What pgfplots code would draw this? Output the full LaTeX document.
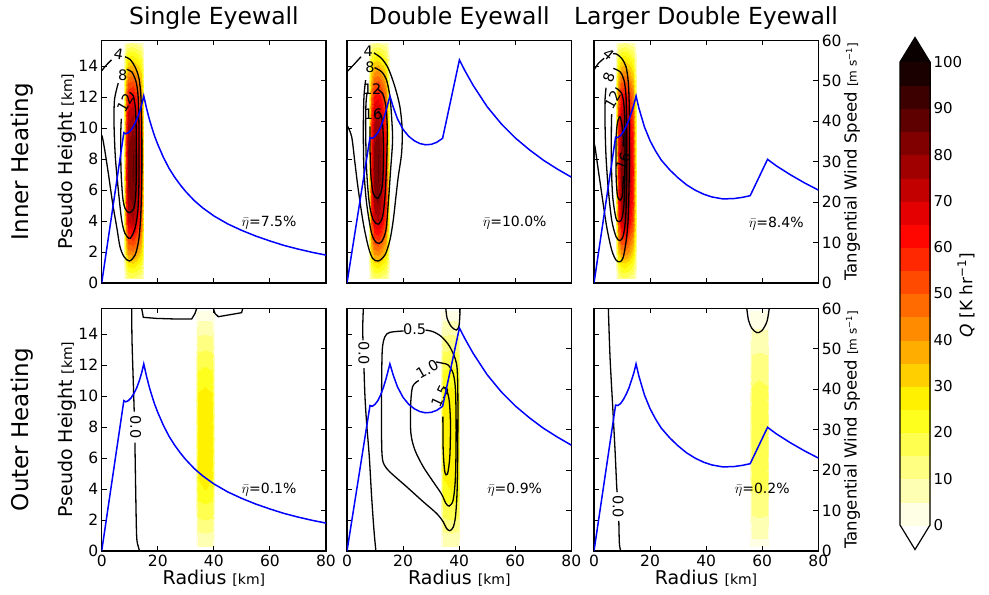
\documentclass[border=0pt]{standalone}
\usepackage{pgfplots}
\pgfplotsset{compat=1.18}
\usepackage{pgfplotstable}
\usepackage{fontspec}
\setmainfont{DejaVu Sans}
\newcommand\fsz[1]{\fontsize{#1bp}{#1bp}\selectfont}
\definecolor{overc}{RGB}{11,0,0}

% 20 discrete levels: 0,5,...,100
\pgfplotsset{colormap={hotr}{
rgb255=(255,255,230) rgb255=(255,255,180) rgb255=(255,255,130) rgb255=(255,255,79) rgb255=(255,255,29)
rgb255=(255,241,0) rgb255=(255,207,0) rgb255=(255,174,0) rgb255=(255,140,0) rgb255=(255,107,0)
rgb255=(255,74,0) rgb255=(255,40,0) rgb255=(255,7,0) rgb255=(228,0,0) rgb255=(195,0,0)
rgb255=(161,0,0) rgb255=(128,0,0) rgb255=(94,0,0) rgb255=(61,0,0) rgb255=(27,0,0)}}

% heating rates Q [K/hr] on (r,z) grid
\pgfplotstableread[row sep=\\]{
r z q\\
8.0 0.3 3.2\\ 8.7 0.3 10.2\\ 9.5 0.3 13.9\\ 11.0 0.3 14.6\\ 12.5 0.3 12.8\\ 14.0 0.3 10.2\\ 15.0 0.3 3.2\\
8.0 1.2 6.4\\ 8.7 1.2 20.4\\ 9.5 1.2 27.7\\ 11.0 1.2 29.2\\ 12.5 1.2 25.7\\ 14.0 1.2 20.4\\ 15.0 1.2 6.4\\
8.0 2.0 9.8\\ 8.7 2.0 31.3\\ 9.5 2.0 42.5\\ 11.0 2.0 44.7\\ 12.5 2.0 39.3\\ 14.0 2.0 31.3\\ 15.0 2.0 9.8\\
8.0 3.0 12.9\\ 8.7 3.0 41.0\\ 9.5 3.0 55.6\\ 11.0 3.0 58.5\\ 12.5 3.0 51.5\\ 14.0 3.0 41.0\\ 15.0 3.0 12.9\\
8.0 4.0 16.5\\ 8.7 4.0 52.4\\ 9.5 4.0 71.1\\ 11.0 4.0 74.8\\ 12.5 4.0 65.8\\ 14.0 4.0 52.4\\ 15.0 4.0 16.5\\
8.0 5.5 18.2\\ 8.7 5.5 57.8\\ 9.5 5.5 78.5\\ 11.0 5.5 82.6\\ 12.5 5.5 72.7\\ 14.0 5.5 57.8\\ 15.0 5.5 18.2\\
8.0 7.0 18.9\\ 8.7 7.0 60.2\\ 9.5 7.0 81.7\\ 11.0 7.0 86.0\\ 12.5 7.0 75.7\\ 14.0 7.0 60.2\\ 15.0 7.0 18.9\\
8.0 8.5 18.7\\ 8.7 8.5 59.6\\ 9.5 8.5 80.8\\ 11.0 8.5 85.1\\ 12.5 8.5 74.9\\ 14.0 8.5 59.6\\ 15.0 8.5 18.7\\
8.0 10.0 17.6\\ 8.7 10.0 56.0\\ 9.5 10.0 76.0\\ 11.0 10.0 80.0\\ 12.5 10.0 70.4\\ 14.0 10.0 56.0\\ 15.0 10.0 17.6\\
8.0 11.0 16.5\\ 8.7 11.0 52.4\\ 9.5 11.0 71.1\\ 11.0 11.0 74.8\\ 12.5 11.0 65.8\\ 14.0 11.0 52.4\\ 15.0 11.0 16.5\\
8.0 12.0 14.2\\ 8.7 12.0 45.2\\ 9.5 12.0 61.3\\ 11.0 12.0 64.5\\ 12.5 12.0 56.8\\ 14.0 12.0 45.2\\ 15.0 12.0 14.2\\
8.0 13.0 11.4\\ 8.7 13.0 36.1\\ 9.5 13.0 49.0\\ 11.0 13.0 51.6\\ 12.5 13.0 45.4\\ 14.0 13.0 36.1\\ 15.0 13.0 11.4\\
8.0 14.0 7.9\\ 8.7 14.0 25.3\\ 9.5 14.0 34.3\\ 11.0 14.0 36.1\\ 12.5 14.0 31.8\\ 14.0 14.0 25.3\\ 15.0 14.0 7.9\\
8.0 14.9 4.7\\ 8.7 14.9 15.1\\ 9.5 14.9 20.4\\ 11.0 14.9 21.5\\ 12.5 14.9 18.9\\ 14.0 14.9 15.1\\ 15.0 14.9 4.7\\
8.0 15.5 2.3\\ 8.7 15.5 7.2\\ 9.5 15.5 9.8\\ 11.0 15.5 10.3\\ 12.5 15.5 9.1\\ 14.0 15.5 7.2\\ 15.0 15.5 2.3\\
}\innerQ

\pgfplotstableread[row sep=\\]{
r z q\\
33.6 0.3 1.7\\ 34.3 0.3 5.2\\ 37.0 0.3 5.5\\ 39.5 0.3 5.2\\ 40.2 0.3 1.7\\
33.6 1.2 3.1\\ 34.3 1.2 9.9\\ 37.0 1.2 10.4\\ 39.5 1.2 9.9\\ 40.2 1.2 3.1\\
33.6 2.0 4.5\\ 34.3 2.0 14.3\\ 37.0 2.0 15.1\\ 39.5 2.0 14.3\\ 40.2 2.0 4.5\\
33.6 3.0 5.9\\ 34.3 3.0 18.7\\ 37.0 3.0 19.7\\ 39.5 3.0 18.7\\ 40.2 3.0 5.9\\
33.6 4.0 7.6\\ 34.3 4.0 23.9\\ 37.0 4.0 25.2\\ 39.5 4.0 23.9\\ 40.2 4.0 7.6\\
33.6 5.5 8.3\\ 34.3 5.5 26.4\\ 37.0 5.5 27.8\\ 39.5 5.5 26.4\\ 40.2 5.5 8.3\\
33.6 7.0 8.7\\ 34.3 7.0 27.6\\ 37.0 7.0 29.0\\ 39.5 7.0 27.6\\ 40.2 7.0 8.7\\
33.6 8.5 8.6\\ 34.3 8.5 27.3\\ 37.0 8.5 28.7\\ 39.5 8.5 27.3\\ 40.2 8.5 8.6\\
33.6 10.0 8.1\\ 34.3 10.0 25.7\\ 37.0 10.0 27.0\\ 39.5 10.0 25.7\\ 40.2 10.0 8.1\\
33.6 11.0 7.1\\ 34.3 11.0 22.6\\ 37.0 11.0 23.8\\ 39.5 11.0 22.6\\ 40.2 11.0 7.1\\
33.6 12.0 5.9\\ 34.3 12.0 18.7\\ 37.0 12.0 19.7\\ 39.5 12.0 18.7\\ 40.2 12.0 5.9\\
33.6 13.0 4.5\\ 34.3 13.0 14.3\\ 37.0 13.0 15.1\\ 39.5 13.0 14.3\\ 40.2 13.0 4.5\\
33.6 14.0 3.0\\ 34.3 14.0 9.4\\ 37.0 14.0 9.9\\ 39.5 14.0 9.4\\ 40.2 14.0 3.0\\
33.6 14.9 1.5\\ 34.3 14.9 4.7\\ 37.0 14.9 4.9\\ 39.5 14.9 4.7\\ 40.2 14.9 1.5\\
33.6 15.5 0.6\\ 34.3 15.5 1.9\\ 37.0 15.5 2.0\\ 39.5 15.5 1.9\\ 40.2 15.5 0.6\\
}\outerA

\pgfplotstableread[row sep=\\]{
r z q\\
55.7 0.3 1.1\\ 56.4 0.3 3.3\\ 59.0 0.3 3.5\\ 61.6 0.3 3.3\\ 62.4 0.3 1.1\\
55.7 1.2 2.0\\ 56.4 1.2 6.3\\ 59.0 1.2 6.6\\ 61.6 1.2 6.3\\ 62.4 1.2 2.0\\
55.7 2.0 2.9\\ 56.4 2.0 9.1\\ 59.0 2.0 9.6\\ 61.6 2.0 9.1\\ 62.4 2.0 2.9\\
55.7 3.0 3.8\\ 56.4 3.0 12.0\\ 59.0 3.0 12.6\\ 61.6 3.0 12.0\\ 62.4 3.0 3.8\\
55.7 4.0 4.8\\ 56.4 4.0 15.3\\ 59.0 4.0 16.1\\ 61.6 4.0 15.3\\ 62.4 4.0 4.8\\
55.7 5.5 5.3\\ 56.4 5.5 16.9\\ 59.0 5.5 17.8\\ 61.6 5.5 16.9\\ 62.4 5.5 5.3\\
55.7 7.0 5.6\\ 56.4 7.0 17.6\\ 59.0 7.0 18.5\\ 61.6 7.0 17.6\\ 62.4 7.0 5.6\\
55.7 8.5 5.5\\ 56.4 8.5 17.4\\ 59.0 8.5 18.3\\ 61.6 8.5 17.4\\ 62.4 8.5 5.5\\
55.7 10.0 5.2\\ 56.4 10.0 16.3\\ 59.0 10.0 17.2\\ 61.6 10.0 16.3\\ 62.4 10.0 5.2\\
55.7 11.0 4.6\\ 56.4 11.0 14.4\\ 59.0 11.0 15.2\\ 61.6 11.0 14.4\\ 62.4 11.0 4.6\\
55.7 12.0 3.8\\ 56.4 12.0 12.0\\ 59.0 12.0 12.6\\ 61.6 12.0 12.0\\ 62.4 12.0 3.8\\
55.7 13.0 2.9\\ 56.4 13.0 9.1\\ 59.0 13.0 9.6\\ 61.6 13.0 9.1\\ 62.4 13.0 2.9\\
55.7 14.0 1.9\\ 56.4 14.0 6.0\\ 59.0 14.0 6.3\\ 61.6 14.0 6.0\\ 62.4 14.0 1.9\\
55.7 14.9 0.9\\ 56.4 14.9 2.9\\ 59.0 14.9 3.1\\ 61.6 14.9 2.9\\ 62.4 14.9 0.9\\
55.7 15.5 0.4\\ 56.4 15.5 1.2\\ 59.0 15.5 1.3\\ 61.6 15.5 1.2\\ 62.4 15.5 0.4\\
}\outerB

\pgfplotstableread[row sep=\\]{
x y\\ 0 0\\ 1 0\\ 0 5\\ 1 5\\ 0 10\\ 1 10\\ 0 15\\ 1 15\\ 0 20\\ 1 20\\ 0 25\\ 1 25\\ 0 30\\ 1 30\\
0 35\\ 1 35\\ 0 40\\ 1 40\\ 0 45\\ 1 45\\ 0 50\\ 1 50\\ 0 55\\ 1 55\\ 0 60\\ 1 60\\ 0 65\\ 1 65\\
0 70\\ 1 70\\ 0 75\\ 1 75\\ 0 80\\ 1 80\\ 0 85\\ 1 85\\ 0 90\\ 1 90\\ 0 95\\ 1 95\\ 0 100\\ 1 100\\
}\cbtab

\tikzset{
  lab/.style={font=\fsz{14.5}, inner sep=0pt},
  eta/.style={font=\fsz{14}, inner sep=0pt},
}
\pgfplotsset{
  panel/.style={width=224.3bp, height=242.5bp, scale only axis, anchor=south west,
    xmin=0, xmax=80, ymin=0, ymax=15.65,
    xtick={0,20,40,60,80}, ytick={0,2,...,14},
    tick align=inside, xtick pos=both, ytick pos=left, xticklabel pos=lower,
    major tick length=5bp, every tick/.style={black, line width=1bp},
    axis line style={line width=1.3bp},
    tick label style={font=\fsz{15.5}},
    /pgf/number format/assume math mode=true,
    axis on top, clip=true,
    colormap name=hotr, colormap access=piecewise constant,
    point meta min=0, point meta max=100},
  twin/.style={width=224.3bp, height=242.5bp, scale only axis, anchor=south west,
    xmin=0, xmax=80, ymin=0, ymax=60,
    axis x line=none, axis y line*=right, ytick={0,10,...,60},
    tick align=inside, major tick length=5bp, every tick/.style={black, line width=1bp},
    axis line style={line width=1.3bp},
    tick label style={font=\fsz{15.5}},
    /pgf/number format/assume math mode=true},
  heat/.style={surf, shader=interp, point meta=explicit, mesh/cols=#1},
  cl/.style={black, line width=1.3bp, smooth, tension=0.5, no markers},
  cls/.style={black, line width=1.3bp, no markers},
  wind/.style={color={rgb,255:red,0;green,0;blue,255}, line width=1.5bp, no markers},
}

\begin{document}
\begin{tikzpicture}
\path[use as bounding box] (0bp,0bp) rectangle (989bp,595bp);

% ================= Panel 1: Single eyewall, inner heating
\begin{axis}[panel, at={(101.7bp,312bp)}, xticklabels={}]
\addplot[heat=7] table[x=r,y=z,meta=q] {\innerQ};
\addplot[cl] coordinates {(0,13.7) (1.6,14.05) (3.5,14.4)};
\addplot[cl] coordinates {(8.3,14.6) (10.1,14.43) (11.9,13.95) (13.3,13.2) (14.0,12.0) (14.3,9.87) (14.3,6.64) (13.9,4.28) (13.2,2.77) (11.9,1.8) (9.86,1.42) (7.96,1.7) (6.53,2.34) (5.34,3.63) (3.91,5.14) (2.37,7.07) (1.18,8.47) (0.35,9.33) (0,9.55)};
\node[lab, rotate=-10] at (axis cs:6.0,14.75) {4};
\addplot[cl] coordinates {(8.9,13.78) (10.69,13.63) (12.24,13.0) (13.0,12.0) (13.3,9.87) (13.3,6.64) (12.9,4.71) (11.88,3.52) (10.1,2.88) (8.31,3.2) (7.12,4.06) (5.93,6.0) (4.86,8.15) (4.39,10.3) (4.51,11.7) (5.1,12.34) (5.9,12.9)};
\node[lab] at (axis cs:7.5,13.4) {8};
\addplot[cl] coordinates {(9.9,12.3) (11.2,12.1) (12.0,11.3) (12.3,9.87) (12.3,6.64) (12.0,5.4) (11.28,4.75) (9.74,4.54) (8.31,4.82) (7.48,5.57) (6.89,7.29) (6.77,9.44) (7.0,10.6)};
\node[lab, rotate=60] at (axis cs:8.3,11.6) {12};
\node[eta] at (axis cs:59.7,3.87) {$\bar{\eta}$=7.5\%};
\end{axis}
\begin{axis}[twin, at={(101.7bp,312bp)}, yticklabels={}]
\addplot[wind] coordinates {(0,0) (7.9,37.2) (8.6,36.9) (9.5,37.2) (10.5,37.9) (11.5,39.0) (12.5,40.4) (13.5,42.3) (14.3,44.2) (15,46.3) (16,43.2) (17,40.5) (18,38.2) (19,36.1) (20,34.3) (22,31.1) (24,28.4) (26,26.2) (28,24.3) (30,22.6) (33,20.4) (36,18.6) (40,16.6) (45,14.6) (50,13.0) (55,11.6) (60,10.4) (65,9.3) (70,8.4) (75,7.6) (80,6.9)};
\end{axis}

% ================= Panel 2: Double eyewall, inner heating
\begin{axis}[panel, at={(347bp,312bp)}, xticklabels={}, yticklabels={}]
\addplot[heat=7] table[x=r,y=z,meta=q] {\innerQ};
\addplot[cl] coordinates {(0,13.63) (2.26,14.06) (5.0,14.6)};
\addplot[cl] coordinates {(9.6,14.85) (12.34,14.49) (14.72,13.85) (17.09,12.66) (18.87,11.37) (19.7,9.87) (19.46,8.36) (18.28,6.86) (17.45,5.57) (16.5,4.06) (15.31,2.77) (13.53,1.8) (11.16,1.42) (9.14,1.59) (7.6,2.34) (5.82,3.85) (4.04,6.0) (2.85,7.72) (1.66,9.44) (0,10.19)};
\node[lab] at (axis cs:7.6,14.95) {4};
\addplot[cl] coordinates {(9.8,13.9) (12.34,13.63) (14.12,13.09) (15.31,12.02) (15.9,10.73) (16.26,9.22) (15.55,7.29) (14.72,5.14) (13.89,3.42) (12.34,2.66) (10.56,2.6) (8.78,3.2) (7.0,5.14) (6.05,7.29) (5.82,9.87) (6.05,12.02) (6.65,13.09)};
\node[lab] at (axis cs:8.2,13.9) {8};
\addplot[cl] coordinates {(10.9,12.5) (12.7,12.23) (13.89,11.37) (14.36,9.87) (14.12,7.72) (13.53,5.57) (12.7,4.28) (11.16,3.8) (9.38,4.06) (7.95,5.14) (7.0,7.29) (6.65,9.87) (6.77,11.59) (7.2,12.3)};
\node[lab] at (axis cs:9.0,12.5) {12};
\addplot[cl] coordinates {(11.0,11.1) (12.34,10.73) (12.94,9.44) (12.94,7.29) (12.34,6.0) (10.92,5.46) (9.38,5.78) (8.55,6.86) (8.19,8.79) (8.19,10.1)};
\node[lab] at (axis cs:9.3,10.9) {16};
\node[eta] at (axis cs:59.8,3.87) {$\bar{\eta}$=10.0\%};
\end{axis}
\begin{axis}[twin, at={(347bp,312bp)}, yticklabels={}]
\addplot[wind] coordinates {(0,0) (8.2,36.0) (9.0,35.8) (10,36.3) (11,37.2) (12,38.6) (13,40.5) (14,42.8) (15.3,46.3) (16.5,43.5) (18,40.6) (20,38.0) (22,36.3) (24,35.2) (26,34.5) (28,34.2) (30,34.3) (32,34.8) (34.1,35.8) (40.1,55.2) (42,52.6) (45,48.9) (50,43.6) (55,39.4) (60,35.9) (65,33.0) (70,30.4) (75,28.2) (80,26.2)};
\end{axis}

% ================= Panel 3: Larger double eyewall, inner heating
\begin{axis}[panel, at={(594bp,312bp)}, xticklabels={}, yticklabels={}]
\addplot[heat=7] table[x=r,y=z,meta=q] {\innerQ};
\addplot[cl] coordinates {(0,13.74) (1.55,14.17) (3.6,14.5)};
\addplot[cl] coordinates {(6.8,14.8) (8.1,14.77) (9.88,14.49) (11.43,13.95) (12.26,12.88) (12.62,10.94) (12.62,7.72) (12.26,4.49) (11.67,2.99) (10.48,1.7) (9.29,1.37) (7.86,1.48) (6.31,2.13) (4.52,3.63) (2.74,5.78) (1.19,7.72) (0.36,8.79) (0,9.01)};
\node[lab, rotate=-40] at (axis cs:5.2,14.75) {4};
\addplot[cl] coordinates {(6.9,13.85) (9.29,13.63) (10.71,13.09) (11.43,12.02) (11.67,9.87) (11.67,6.64) (11.31,4.28) (10.48,3.09) (9.29,2.73) (7.86,2.99) (6.31,4.06) (5.12,6.0) (4.29,8.15) (3.93,10.3) (3.93,11.8) (4.3,12.6)};
\node[lab, rotate=70] at (axis cs:5.3,13.3) {8};
\addplot[cl] coordinates {(7.6,12.6) (9.88,12.23) (10.83,11.16) (11.07,8.79) (10.83,5.57) (10.12,4.28) (9.05,3.96) (7.86,4.17) (6.67,5.57) (6.19,7.72) (6.19,9.87) (6.3,10.9)};
\node[lab, rotate=60] at (axis cs:6.6,11.8) {12};
\addplot[cl] coordinates {(10.48,6.9) (10.12,5.67) (9.29,5.35) (8.33,5.67) (7.86,7.07) (7.86,9.22) (8.33,10.3) (9.29,10.73) (10.24,9.87) (10.48,8.8)};
\node[lab, rotate=70] at (axis cs:10.4,7.85) {16};
\node[eta] at (axis cs:65,3.8) {$\bar{\eta}$=8.4\%};
\end{axis}
\begin{axis}[twin, at={(594bp,312bp)}]
\addplot[wind] coordinates {(0,0) (7.7,36.1) (8.5,36.0) (9.5,36.5) (10.5,37.5) (11.5,38.8) (12.5,40.4) (13.5,42.5) (14.3,44.3) (15,46.3) (16,43.3) (18,38.6) (20,35.2) (22,32.6) (24,30.4) (27,28.0) (30,26.0) (33,24.3) (36,23.0) (39,22.0) (42,21.3) (46,20.8) (50,20.9) (53,21.2) (55.7,21.6) (61.9,30.6) (65,29.0) (70,26.8) (75,24.8) (80,23.0)};
\end{axis}

% ================= Panel 4: Single eyewall, outer heating
\begin{axis}[panel, at={(101.7bp,44bp)}]
\addplot[heat=5] table[x=r,y=z,meta=q] {\outerA};
\addplot[cl] coordinates {(10.69,15.65) (10.81,13.61) (11.28,10.82) (11.6,9.0)};
\addplot[cl] coordinates {(11.85,7.0) (12.12,3.94) (12.47,0.93) (13.07,0.28) (13.5,0)};
\node[lab, rotate=-90] at (axis cs:12.1,8.0) {0.0};
\addplot[cls] coordinates {(14.26,15.65) (14.85,15.08) (19.6,15.01) (26.74,14.97) (32.09,14.97) (33.28,15.33) (33.87,15.65)};
\addplot[cls] coordinates {(39.82,15.65) (40.41,15.33) (41.6,15.12) (49.92,15.38) (50.28,15.65)};
\node[eta] at (axis cs:59.7,3.94) {$\bar{\eta}$=0.1\%};
\end{axis}
\begin{axis}[twin, at={(101.7bp,44bp)}, yticklabels={}]
\addplot[wind] coordinates {(0,0) (7.9,37.2) (8.6,36.9) (9.5,37.2) (10.5,37.9) (11.5,39.0) (12.5,40.4) (13.5,42.3) (14.3,44.2) (15,46.3) (16,43.2) (17,40.5) (18,38.2) (19,36.1) (20,34.3) (22,31.1) (24,28.4) (26,26.2) (28,24.3) (30,22.6) (33,20.4) (36,18.6) (40,16.6) (45,14.6) (50,13.0) (55,11.6) (60,10.4) (65,9.3) (70,8.4) (75,7.6) (80,6.9)};
\end{axis}

% ================= Panel 5: Double eyewall, outer heating
\begin{axis}[panel, at={(347bp,44bp)}, yticklabels={}]
\addplot[heat=5] table[x=r,y=z,meta=q] {\outerA};
\addplot[cl] coordinates {(5.82,15.65) (5.6,14.4) (5.7,13.6)};
\addplot[cl] coordinates {(6.05,11.8) (6.41,9.96) (7.0,8.24) (7.95,6.09) (8.78,3.51) (9.61,1.36) (10.21,0.17) (10.33,0)};
\node[lab, rotate=-90] at (axis cs:6.0,12.75) {0.0};
\addplot[cl] coordinates {(20.2,14.2) (15.31,14.11) (13.53,13.83) (12.58,12.97) (12.34,10.39) (12.34,7.16) (12.7,5.87) (14.12,5.33) (16.5,4.9) (21.24,4.15) (27.18,3.18) (31.92,2.43) (34.3,1.89) (35.48,1.46) (36.67,1.31) (37.86,1.53) (38.69,2.22) (39.28,3.94) (39.52,7.16) (39.52,10.39) (39.04,12.11) (36.67,13.18) (33.7,13.83) (30.74,14.15) (28.0,14.26)};
\node[lab] at (axis cs:24.1,14.3) {0.5};
\addplot[cl] coordinates {(35.25,15.65) (35.72,15.01) (37.26,14.47) (39.04,14.26) (40.0,14.58) (40.35,15.65)};
\addplot[cl] coordinates {(25.6,11.0) (23.38,10.6) (22.67,9.31) (22.79,7.59) (24.21,6.52) (27.18,5.44) (30.74,4.47) (33.7,3.68) (35.25,3.08) (36.43,2.9) (37.86,3.29) (38.69,4.8) (38.93,7.81) (38.69,10.39) (37.86,11.46) (36.08,12.0) (34.3,12.11) (31.8,12.2)};
\node[lab, rotate=30] at (axis cs:28.6,11.72) {1.0};
\addplot[cl] coordinates {(34.3,10.6) (35.48,10.39) (36.43,9.74) (36.91,8.24) (36.67,6.09) (35.84,4.97) (34.89,5.12) (34.3,6.52) (34.2,8.67)};
\node[lab, rotate=65] at (axis cs:33.2,10.0) {1.5};
\node[eta] at (axis cs:59.8,3.94) {$\bar{\eta}$=0.9\%};
\end{axis}
\begin{axis}[twin, at={(347bp,44bp)}, yticklabels={}]
\addplot[wind] coordinates {(0,0) (8.2,36.0) (9.0,35.8) (10,36.3) (11,37.2) (12,38.6) (13,40.5) (14,42.8) (15.3,46.3) (16.5,43.5) (18,40.6) (20,38.0) (22,36.3) (24,35.2) (26,34.5) (28,34.2) (30,34.3) (32,34.8) (34.1,35.8) (40.1,55.2) (42,52.6) (45,48.9) (50,43.6) (55,39.4) (60,35.9) (65,33.0) (70,30.4) (75,28.2) (80,26.2)};
\end{axis}

% ================= Panel 6: Larger double eyewall, outer heating
\begin{axis}[panel, at={(594bp,44bp)}, yticklabels={}]
\addplot[heat=5] table[x=r,y=z,meta=q] {\outerB};
\addplot[cl] coordinates {(5.12,15.65) (5.71,12.54) (6.67,9.31) (7.5,6.52) (8.1,4.15) (8.3,3.8)};
\addplot[cl] coordinates {(8.85,1.95) (9.05,0.5) (9.52,0)};
\node[lab, rotate=-90] at (axis cs:8.6,2.86) {0.0};
\addplot[cl] coordinates {(54.5,15.65) (55.1,14.9) (56.31,14.37) (58.1,14.09) (59.88,14.22) (61.67,14.8) (62.5,15.65)};
\node[eta] at (axis cs:60,3.94) {$\bar{\eta}$=0.2\%};
\end{axis}
\begin{axis}[twin, at={(594bp,44bp)}]
\addplot[wind] coordinates {(0,0) (7.7,36.1) (8.5,36.0) (9.5,36.5) (10.5,37.5) (11.5,38.8) (12.5,40.4) (13.5,42.5) (14.3,44.3) (15,46.3) (16,43.3) (18,38.6) (20,35.2) (22,32.6) (24,30.4) (27,28.0) (30,26.0) (33,24.3) (36,23.0) (39,22.0) (42,21.3) (46,20.8) (50,20.9) (53,21.2) (55.7,21.6) (61.9,30.6) (65,29.0) (70,26.8) (75,24.8) (80,23.0)};
\end{axis}

% ================= Colorbar
\begin{axis}[at={(900bp,70bp)}, anchor=south west, width=30bp, height=463bp, scale only axis,
  xmin=0, xmax=1, ymin=0, ymax=100, clip=false,
  axis x line=none, axis y line*=right, ytick={0,10,...,100},
  tick align=inside, major tick length=5bp, every tick/.style={black, line width=1bp},
  axis line style={line width=1.2bp},
  yticklabel style={font=\fsz{15}},
  /pgf/number format/assume math mode=true,
  colormap name=hotr, colormap access=piecewise constant,
  point meta min=0, point meta max=100]
\addplot[surf, shader=flat corner, mesh/cols=2, point meta=explicit] table[x=x,y=y,meta=y] {\cbtab};
\addplot[fill=overc, draw=none] coordinates {(0,100) (0.5,105.3) (1,100)} -- cycle;
\addplot[black, line width=1.2bp] coordinates {(0,0) (0,100) (0.5,105.3) (1,100) (1,0) (0.5,-5.3)} -- cycle;
\end{axis}

% ================= Texts
\node[font=\fsz{23.5}] at (213.9bp,577bp) {Single Eyewall};
\node[font=\fsz{23.5}] at (459.3bp,577bp) {Double Eyewall};
\node[font=\fsz{23.5}] at (706.0bp,577bp) {Larger Double Eyewall};
\node[font=\fsz{23}, rotate=90] at (22bp,433.3bp) {Inner Heating};
\node[font=\fsz{23}, rotate=90] at (22bp,165.3bp) {Outer Heating};
\node[font=\fsz{19}, rotate=90] at (67bp,433.3bp) {Pseudo Height {\fsz{14}[km]}};
\node[font=\fsz{19}, rotate=90] at (67bp,165.3bp) {Pseudo Height {\fsz{14}[km]}};
\node[font=\fsz{19}] at (213.9bp,17bp) {Radius {\fsz{14}[km]}};
\node[font=\fsz{19}] at (459.3bp,17bp) {Radius {\fsz{14}[km]}};
\node[font=\fsz{19}] at (706.0bp,17bp) {Radius {\fsz{14}[km]}};
\node[font=\fsz{16.5}, rotate=90] at (852bp,433.3bp) {Tangential Wind Speed {\fsz{12}[m s\textsuperscript{−1}]}};
\node[font=\fsz{16.5}, rotate=90] at (852bp,165.3bp) {Tangential Wind Speed {\fsz{12}[m s\textsuperscript{−1}]}};
\node[font=\fsz{17}, rotate=90] at (966bp,300bp) {{\itshape Q} [K hr\textsuperscript{−1}]};
\end{tikzpicture}
\end{document}
